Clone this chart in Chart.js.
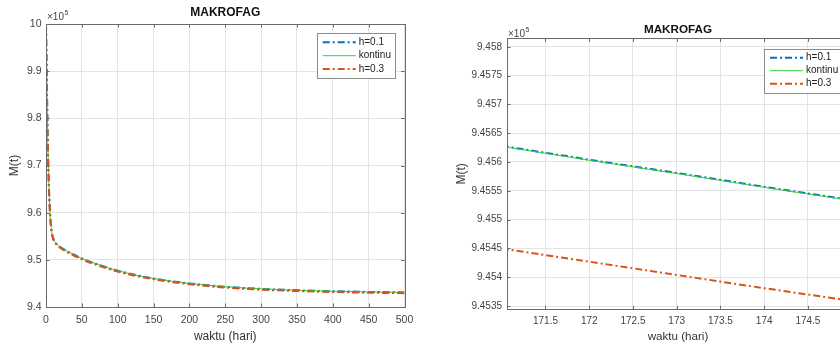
<!DOCTYPE html>
<html lang="id">
<head>
<meta charset="utf-8">
<title>MAKROFAG</title>
<script src="https://cdn.jsdelivr.net/npm/chart.js@4.4.1/dist/chart.umd.min.js"></script>
<style>
  html,body{margin:0;padding:0;background:#fff;overflow:hidden;width:840px;height:347px;}
  .wrap{position:absolute;top:0;height:347px;}
  #wrapL{left:0;width:420px;}
  #wrapR{left:420px;width:440px;}
</style>
</head>
<body>
<div class="wrap" id="wrapL"><canvas id="fullChart" width="420" height="347"></canvas></div>
<div class="wrap" id="wrapR"><canvas id="zoomChart" width="440" height="347"></canvas></div>
<script>
// M(t) values are in units of 1e5 (the axis carries the x10^5 multiplier)

// left panel: whole run, 0..500 days
const fullTime    = [0, 0.5, 1, 2, 3, 4, 5, 6, 8, 10, 13, 16, 20, 30, 50, 75, 100, 150, 200, 250, 300, 350, 400, 450, 500];
const fullH01     = [10, 9.95, 9.90, 9.79, 9.715, 9.66, 9.62, 9.59, 9.56, 9.546, 9.537, 9.532, 9.527, 9.518, 9.503, 9.489, 9.477, 9.4605, 9.450, 9.443, 9.4385, 9.4355, 9.4335, 9.432, 9.431];
const fullKontinu = [10, 9.95, 9.90, 9.79, 9.715, 9.66, 9.62, 9.59, 9.56, 9.546, 9.537, 9.532, 9.527, 9.518, 9.503, 9.489, 9.477, 9.4605, 9.450, 9.443, 9.4385, 9.4355, 9.4335, 9.432, 9.431];
const fullH03     = [10, 9.945, 9.895, 9.785, 9.71, 9.655, 9.615, 9.586, 9.557, 9.544, 9.535, 9.530, 9.525, 9.516, 9.501, 9.487, 9.475, 9.4588, 9.4483, 9.4413, 9.4368, 9.4338, 9.4318, 9.4303, 9.4293];
const fullXTicks  = [0, 50, 100, 150, 200, 250, 300, 350, 400, 450, 500];
const fullYTicks  = [9.4, 9.5, 9.6, 9.7, 9.8, 9.9, 10];

// right panel: zoom around day 171-175
const zoomTime    = [171, 172, 173, 174, 175];
const zoomH01     = [9.45628, 9.45604, 9.45581, 9.45557, 9.45534];
const zoomKontinu = [9.45627, 9.45603, 9.45580, 9.45556, 9.45533];
const zoomH03     = [9.45450, 9.45427, 9.45404, 9.45381, 9.45359];
const zoomXTicks  = [171.5, 172, 172.5, 173, 173.5, 174, 174.5];
const zoomYTicks  = [9.4535, 9.454, 9.4545, 9.455, 9.4555, 9.456, 9.4565, 9.457, 9.4575, 9.458];

const seriesLabels = ['h=0.1', 'kontinu', 'h=0.3'];

const FONT = '"Liberation Sans", Arial, Helvetica, sans-serif';
const BLUE = '#0072BD', GREEN = '#3ccc3c', ORANGE = '#D95319';
const AXIS = '#6a6a6a', TEXT = '#444', GRID = '#e4e4e4';
const DASHDOT = [7, 3, 2, 3];

function pts(xs, ys) { return xs.map((x, i) => ({ x: x, y: ys[i] })); }

function datasets(t, a, b, c) {
  const common = { pointRadius: 0, fill: false, cubicInterpolationMode: 'monotone' };
  return [
    Object.assign({ label: seriesLabels[0], data: pts(t, a), borderColor: BLUE, borderWidth: 2, borderDash: DASHDOT, order: 3 }, common),
    Object.assign({ label: seriesLabels[1], data: pts(t, b), borderColor: GREEN, borderWidth: 1, order: 2 }, common),
    Object.assign({ label: seriesLabels[2], data: pts(t, c), borderColor: ORANGE, borderWidth: 2, borderDash: DASHDOT, order: 1 }, common),
  ];
}

// MATLAB-style box, inward ticks, exponent label and inset legend
const matlabDecor = {
  id: 'matlabDecor',
  afterDraw(chart, args, o) {
    const { ctx, chartArea: a, scales } = chart;
    const tl = 3.5;
    ctx.save();
    ctx.strokeStyle = AXIS; ctx.lineWidth = 1;
    ctx.strokeRect(Math.round(a.left) + 0.5, Math.round(a.top) + 0.5, Math.round(a.right - a.left), Math.round(a.bottom - a.top));
    ctx.beginPath();
    scales.x.ticks.forEach(t => {
      const x = Math.round(scales.x.getPixelForValue(t.value)) + 0.5;
      ctx.moveTo(x, a.bottom); ctx.lineTo(x, a.bottom - tl);
      ctx.moveTo(x, a.top); ctx.lineTo(x, a.top + tl);
    });
    scales.y.ticks.forEach(t => {
      const y = Math.round(scales.y.getPixelForValue(t.value)) + 0.5;
      ctx.moveTo(a.left, y); ctx.lineTo(a.left + tl, y);
      ctx.moveTo(a.right, y); ctx.lineTo(a.right - tl, y);
    });
    ctx.stroke();

    // x10^5
    ctx.fillStyle = TEXT;
    ctx.textBaseline = 'alphabetic'; ctx.textAlign = 'left';
    ctx.font = '10px ' + FONT;
    const ex = a.left + 1;
    ctx.fillText('\u00d710', ex, o.expY);
    const w = ctx.measureText('\u00d710').width;
    ctx.font = '7px ' + FONT;
    ctx.fillText('5', ex + w + 0.5, o.expY - 5);

    // legend
    const items = chart.data.datasets;
    ctx.font = '10px ' + FONT;
    const textW = Math.max(...items.map(d => ctx.measureText(d.label).width));
    const pad = 6, lineLen = 33, gap = 3, rowH = o.rowH;
    const bw = pad + lineLen + gap + textW + 4, bh = rowH * 2 + 18;
    const bx = o.legendX, by = o.legendY;
    ctx.fillStyle = '#fff';
    ctx.fillRect(bx, by, bw, bh);
    ctx.strokeStyle = '#8c8c8c';
    ctx.strokeRect(Math.round(bx) + 0.5, Math.round(by) + 0.5, Math.round(bw), Math.round(bh));
    items.forEach((d, i) => {
      const cy = by + 9 + i * rowH;
      ctx.beginPath();
      ctx.strokeStyle = d.borderColor; ctx.lineWidth = d.borderWidth;
      ctx.setLineDash(d.borderDash || []);
      ctx.moveTo(bx + pad, cy); ctx.lineTo(bx + pad + lineLen, cy);
      ctx.stroke();
      ctx.setLineDash([]);
      ctx.fillStyle = '#222';
      ctx.textBaseline = 'middle';
      ctx.fillText(d.label, bx + pad + lineLen + gap, cy);
    });
    ctx.restore();
  }
};

function makeChart(id, cfg) {
  return new Chart(document.getElementById(id), {
    type: 'line',
    data: { datasets: cfg.datasets },
    plugins: [matlabDecor],
    options: {
      responsive: false,
      animation: false,
      layout: { padding: { left: 0, right: cfg.padRight, top: 0, bottom: 0 } },
      plugins: {
        legend: { display: false },
        tooltip: { enabled: false },
        title: {
          display: true, text: 'MAKROFAG', fullSize: false, color: '#111',
          font: { family: FONT, size: cfg.titleSize, weight: 'bold', lineHeight: 1.2 },
          padding: cfg.titlePad
        },
        matlabDecor: cfg.decor
      },
      scales: {
        x: {
          type: 'linear', min: cfg.xMin, max: cfg.xMax,
          afterBuildTicks: s => { s.ticks = cfg.xTicks.map(v => ({ value: v })); },
          afterFit: s => { s.height = cfg.xHeight; },
          ticks: { color: TEXT, font: { family: FONT, size: cfg.tickSize }, padding: cfg.xTickPad, maxRotation: 0, autoSkip: false, callback: v => String(v) },
          grid: { color: GRID, drawTicks: false },
          border: { color: AXIS },
          title: { display: true, text: 'waktu (hari)', color: '#333', font: { family: FONT, size: cfg.labelSize, lineHeight: 1.2 }, padding: { top: 0, bottom: 3 } }
        },
        y: {
          type: 'linear', min: cfg.yMin, max: cfg.yMax,
          afterBuildTicks: s => { s.ticks = cfg.yTicks.map(v => ({ value: v })); },
          afterFit: s => { s.width = cfg.yWidth; },
          ticks: { color: TEXT, font: { family: FONT, size: cfg.tickSize }, padding: cfg.yTickPad, autoSkip: false, callback: v => String(v) },
          grid: { color: GRID, drawTicks: false },
          border: { color: AXIS },
          title: { display: true, text: 'M(t)', color: '#333', font: { family: FONT, size: 12, lineHeight: 1.2 }, padding: { top: cfg.yTitlePad, bottom: 0 } }
        }
      }
    }
  });
}

makeChart('fullChart', {
  datasets: datasets(fullTime, fullH01, fullKontinu, fullH03),
  xMin: 0, xMax: 500, yMin: 9.4, yMax: 10,
  xTicks: fullXTicks, yTicks: fullYTicks,
  padRight: 14, yWidth: 46, xHeight: 40,
  titleSize: 12, titlePad: { top: 5.5, bottom: 4.1 },
  tickSize: 10.5, labelSize: 12, xTickPad: 6.7, yTickPad: 4.5, yTitlePad: 7.8,
  decor: { expY: 20, legendX: 316.7, legendY: 33.3, rowH: 13.4 }
});

makeChart('zoomChart', {
  datasets: datasets(zoomTime, zoomH01, zoomKontinu, zoomH03),
  xMin: 171.06, xMax: 174.97, yMin: 9.453443, yMax: 9.458146,
  xTicks: zoomXTicks, yTicks: zoomYTicks,
  padRight: 11, yWidth: 87, xHeight: 37.7,
  titleSize: 11.7, titlePad: { top: 22.5, bottom: 1.8 },
  tickSize: 10, labelSize: 11.6, xTickPad: 6.4, yTickPad: 5, yTitlePad: 34.5,
  decor: { expY: 37, legendX: 344, legendY: 48.7, rowH: 13 }
});
</script>
</body>
</html>
